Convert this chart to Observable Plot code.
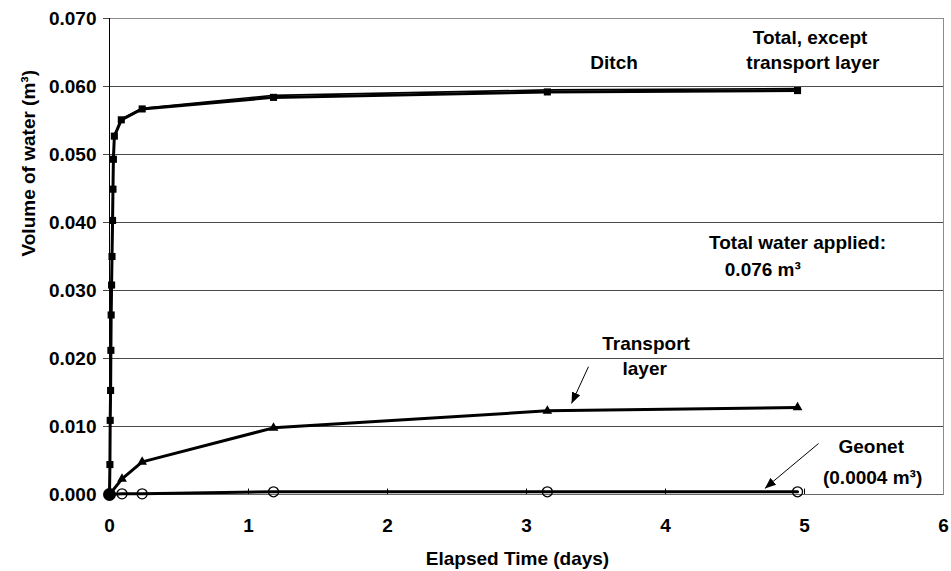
<!DOCTYPE html>
<html>
<head>
<meta charset="utf-8">
<script src="https://cdn.jsdelivr.net/npm/d3@7"></script>
<script src="https://cdn.jsdelivr.net/npm/@observablehq/plot@0.6"></script>
<style>
  html, body { margin: 0; padding: 0; background: #fff; }
  #chart svg { display: block; }
</style>
</head>
<body>
<div id="chart"></div>
<script>
// Elapsed time (days) and cumulative volumes (m³)
const ditchTime = [0, 0.003, 0.005, 0.008, 0.010, 0.012, 0.015, 0.018, 0.022, 0.025, 0.028, 0.035, 0.085, 0.235, 1.18, 3.15, 4.95];
const ditchVolume = [0, 0.0044, 0.0109, 0.0153, 0.0212, 0.0264, 0.0308, 0.0350, 0.0403, 0.0449, 0.0493, 0.0527, 0.0551, 0.0567, 0.0584, 0.0592, 0.0594];
const totalVolume = [0, 0.0044, 0.0109, 0.0153, 0.0212, 0.0264, 0.0308, 0.0350, 0.0403, 0.0449, 0.0493, 0.0528, 0.0552, 0.0568, 0.0587, 0.0595, 0.0597];

const layerTime = [0, 0.09, 0.235, 1.18, 3.15, 4.95];
const transportVolume = [0, 0.0023, 0.0048, 0.0098, 0.0123, 0.0128];
const geonetVolume = [0, 0.0001, 0.0001, 0.0004, 0.0004, 0.0004];

const xTicks = [0, 1, 2, 3, 4, 5, 6];
const yTicks = [0, 0.01, 0.02, 0.03, 0.04, 0.05, 0.06, 0.07];

// Annotation labels (position in data units)
const notes = [
  {t: 3.63, v: 0.0634, text: "Ditch"},
  {t: 5.04, v: 0.0672, text: "Total, except"},
  {t: 5.06, v: 0.0634, text: "transport layer"},
  {t: 4.95, v: 0.0370, text: "Total water applied:"},
  {t: 4.70, v: 0.0330, text: "0.076 m³"},
  {t: 3.86, v: 0.0222, text: "Transport"},
  {t: 3.85, v: 0.0185, text: "layer"},
  {t: 5.48, v: 0.0070, text: "Geonet"},
  {t: 5.49, v: 0.0025, text: "(0.0004 m³)"}
];

// Pointer arrows from labels to their curves
const pointers = [
  {t1: 3.446, v1: 0.0188, t2: 3.324, v2: 0.0134},
  {t1: 5.101, v1: 0.0075, t2: 4.715, v2: 0.0009}
];

const rows = (ts, vs) => ts.map((t, i) => ({t, v: vs[i]}));
const ditch = rows(ditchTime, ditchVolume);
const total = rows(ditchTime, totalVolume);
const transport = rows(layerTime, transportVolume);
const geonet = rows(layerTime, geonetVolume);
const origin = [ditch[0]];

const chart = Plot.plot({
  width: 951,
  height: 571,
  marginLeft: 109,
  marginRight: 8,
  marginTop: 18,
  marginBottom: 77,
  style: {
    fontFamily: "'Liberation Sans', Arial, sans-serif",
    fontSize: "19px",
    fontWeight: "bold",
    background: "#fff",
    color: "#000"
  },
  x: {domain: [0, 6]},
  y: {domain: [0, 0.07]},
  marks: [
    Plot.gridY(yTicks, {stroke: "#4a4a4a", strokeOpacity: 1}),
    Plot.frame({stroke: "#8c8c8c"}),
    Plot.ruleY([0], {stroke: "#666"}),
    Plot.ruleX([0], {stroke: "#000"}),
    Plot.ruleX(xTicks.slice(1, -1), {y1: 0, y2: 0.0008, stroke: "#000"}),
    Plot.axisY(yTicks, {tickSize: 6, tickPadding: 7, tickFormat: d3.format(".3f"), label: null, stroke: "#4a4a4a"}),
    Plot.axisX(xTicks, {tickSize: 0, tickPadding: 24, tickFormat: d3.format("d"), label: null}),

    // Geonet: open circles
    Plot.line(geonet, {x: "t", y: "v", stroke: "#000", strokeWidth: 3}),
    Plot.dot(geonet, {x: "t", y: "v", r: 5, stroke: "#000", strokeWidth: 1.3, fill: "none"}),

    // Transport layer: triangles
    Plot.line(transport, {x: "t", y: "v", stroke: "#000", strokeWidth: 3}),
    Plot.dot(transport, {x: "t", y: "v", symbol: "triangle", r: 3.6, fill: "#000"}),

    // Total, except transport layer
    Plot.line(total, {x: "t", y: "v", stroke: "#000", strokeWidth: 1.6}),
    // Ditch: squares
    Plot.line(ditch, {x: "t", y: "v", stroke: "#000", strokeWidth: 3}),
    Plot.dot(ditch, {x: "t", y: "v", symbol: "square", r: 4, fill: "#000"}),

    // overlapping start readings at the origin
    Plot.dot(origin, {x: "t", y: "v", r: 6.5, fill: "#000"}),

    Plot.link(pointers, {x1: "t1", y1: "v1", x2: "t2", y2: "v2", stroke: "#000", strokeWidth: 1, markerEnd: "arrow"}),

    Plot.text(notes, {x: "t", y: "v", text: "text", fill: "#000", fontSize: 19, fontWeight: "bold"}),

    // axis titles
    Plot.text(["Elapsed Time (days)"], {frameAnchor: "bottom", dx: -9, dy: 70, fill: "#000"}),
    Plot.text(["Volume of water (m³)"], {frameAnchor: "left", rotate: -90, dx: -81, fill: "#000"})
  ]
});

// filled arrowheads on the pointer lines
d3.select(chart).selectAll("marker")
  .attr("viewBox", "-11 -5 12 10")
  .attr("markerUnits", "userSpaceOnUse")
  .attr("markerWidth", 12)
  .attr("markerHeight", 10)
  .attr("fill", "#000")
  .attr("stroke", "none")
  .selectAll("path")
  .attr("d", "M-11,-4.5L0,0L-11,4.5Z");

document.getElementById("chart").append(chart);
</script>
</body>
</html>
